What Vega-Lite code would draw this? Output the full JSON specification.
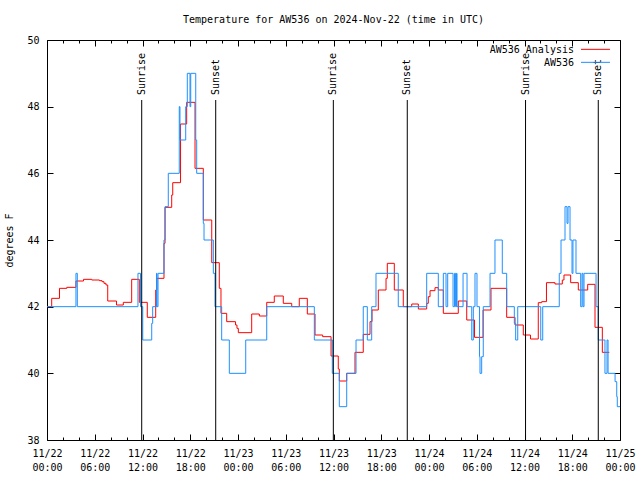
{
  "$schema": "https://vega.github.io/schema/vega-lite/v6.json",
  "width": 573,
  "height": 400,
  "autosize": "none",
  "padding": {"left": 47, "top": 40, "right": 20, "bottom": 40},
  "background": "white",
  "title": {
    "text": "Temperature for AW536 on 2024-Nov-22 (time in UTC)",
    "font": "DejaVu Sans Mono",
    "fontSize": 10,
    "fontWeight": "normal",
    "color": "black",
    "offset": 10,
    "anchor": "middle"
  },
  "config": {
    "view": {"stroke": "black", "strokeWidth": 1},
    "axis": {
      "labelFont": "DejaVu Sans Mono",
      "labelFontSize": 10,
      "labelColor": "black",
      "titleFont": "DejaVu Sans Mono",
      "titleFontSize": 10,
      "titleFontWeight": "normal",
      "titleColor": "black",
      "tickColor": "black",
      "domain": false,
      "grid": false
    }
  },
  "datasets": {
    "analysis": [
      {"h": 0, "temp": 42.0}, {"h": 0.59, "temp": 42.25}, {"h": 1.57, "temp": 42.55}, {"h": 2.49, "temp": 42.58},
      {"h": 3.64, "temp": 42.77}, {"h": 4.59, "temp": 42.82}, {"h": 5.62, "temp": 42.8}, {"h": 6.6, "temp": 42.78},
      {"h": 6.91, "temp": 42.75}, {"h": 7.16, "temp": 42.7}, {"h": 7.41, "temp": 42.65}, {"h": 7.63, "temp": 42.17},
      {"h": 8.73, "temp": 42.05}, {"h": 9.59, "temp": 42.13}, {"h": 10.64, "temp": 42.82}, {"h": 11.6, "temp": 42.13},
      {"h": 12.6, "temp": 41.68}, {"h": 13.66, "temp": 42.5}, {"h": 13.8, "temp": 42.85}, {"h": 14.7, "temp": 43.9},
      {"h": 14.83, "temp": 44.98}, {"h": 15.67, "temp": 45.35}, {"h": 15.8, "temp": 45.72}, {"h": 16.78, "temp": 47.48},
      {"h": 17.55, "temp": 48.13}, {"h": 18.6, "temp": 46.15}, {"h": 19.64, "temp": 44.6}, {"h": 20.7, "temp": 43.32},
      {"h": 21.65, "temp": 42.55}, {"h": 21.86, "temp": 41.8}, {"h": 22.58, "temp": 41.55}, {"h": 23.69, "temp": 41.45},
      {"h": 23.87, "temp": 41.35}, {"h": 24.04, "temp": 41.22}, {"h": 25.72, "temp": 41.78}, {"h": 26.68, "temp": 41.72},
      {"h": 27.61, "temp": 42.13}, {"h": 28.56, "temp": 42.32}, {"h": 29.69, "temp": 42.1}, {"h": 30.75, "temp": 42.0},
      {"h": 31.7, "temp": 42.25}, {"h": 32.71, "temp": 41.78}, {"h": 33.68, "temp": 41.15}, {"h": 34.64, "temp": 41.1},
      {"h": 35.69, "temp": 40.52}, {"h": 36.6, "temp": 40.13}, {"h": 36.73, "temp": 39.77}, {"h": 37.66, "temp": 40.0},
      {"h": 38.7, "temp": 40.63}, {"h": 39.74, "temp": 41.17}, {"h": 40.59, "temp": 41.55}, {"h": 40.84, "temp": 41.9},
      {"h": 41.63, "temp": 42.5}, {"h": 42.6, "temp": 42.85}, {"h": 42.76, "temp": 43.3}, {"h": 43.64, "temp": 42.5},
      {"h": 44.77, "temp": 42.0}, {"h": 45.83, "temp": 42.08}, {"h": 46.66, "temp": 41.93}, {"h": 47.71, "temp": 42.1},
      {"h": 47.91, "temp": 42.3}, {"h": 48.13, "temp": 42.48}, {"h": 48.75, "temp": 42.57}, {"h": 49.17, "temp": 42.5},
      {"h": 49.8, "temp": 41.8}, {"h": 51.68, "temp": 42.17}, {"h": 52.74, "temp": 41.6}, {"h": 53.72, "temp": 41.08},
      {"h": 54.79, "temp": 41.9}, {"h": 55.79, "temp": 42.55}, {"h": 57.76, "temp": 41.68}, {"h": 58.81, "temp": 41.45},
      {"h": 59.85, "temp": 41.15}, {"h": 60.75, "temp": 41.03}, {"h": 61.73, "temp": 42.12}, {"h": 62.16, "temp": 42.15},
      {"h": 62.76, "temp": 42.72}, {"h": 63.83, "temp": 42.68}, {"h": 64.75, "temp": 42.8}, {"h": 64.96, "temp": 42.95},
      {"h": 65.8, "temp": 42.72}, {"h": 66.76, "temp": 42.5}, {"h": 67.94, "temp": 42.67}, {"h": 68.86, "temp": 41.38},
      {"h": 69.78, "temp": 40.63}, {"h": 70.66, "temp": 40.63}
    ],
    "obs": [
      {"h": 0, "temp": 42}, {"h": 3.64, "temp": 43}, {"h": 3.81, "temp": 42}, {"h": 11.43, "temp": 43},
      {"h": 11.75, "temp": 42}, {"h": 12.03, "temp": 41}, {"h": 13.16, "temp": 41.5}, {"h": 13.28, "temp": 42},
      {"h": 13.76, "temp": 43}, {"h": 13.82, "temp": 42}, {"h": 13.95, "temp": 43}, {"h": 14.7, "temp": 44},
      {"h": 14.83, "temp": 45}, {"h": 15.24, "temp": 46}, {"h": 16.62, "temp": 48}, {"h": 16.71, "temp": 47},
      {"h": 17.43, "temp": 48}, {"h": 17.63, "temp": 49}, {"h": 17.97, "temp": 48}, {"h": 18.06, "temp": 49},
      {"h": 18.69, "temp": 47}, {"h": 18.81, "temp": 46}, {"h": 19.64, "temp": 44.5}, {"h": 19.73, "temp": 44},
      {"h": 20.9, "temp": 43}, {"h": 21.11, "temp": 42}, {"h": 21.95, "temp": 41}, {"h": 22.91, "temp": 40},
      {"h": 24.97, "temp": 41}, {"h": 27.61, "temp": 42}, {"h": 33.59, "temp": 41}, {"h": 35.85, "temp": 40},
      {"h": 36.73, "temp": 39}, {"h": 37.66, "temp": 40}, {"h": 38.83, "temp": 41}, {"h": 39.74, "temp": 42},
      {"h": 40.25, "temp": 41}, {"h": 40.8, "temp": 42}, {"h": 41.34, "temp": 43}, {"h": 44.14, "temp": 42},
      {"h": 47.71, "temp": 43}, {"h": 49.17, "temp": 42}, {"h": 49.8, "temp": 43}, {"h": 50.14, "temp": 42},
      {"h": 50.35, "temp": 43}, {"h": 51.02, "temp": 42}, {"h": 51.21, "temp": 43}, {"h": 51.34, "temp": 42},
      {"h": 51.46, "temp": 43}, {"h": 51.52, "temp": 42}, {"h": 52.28, "temp": 43}, {"h": 52.78, "temp": 42},
      {"h": 53.37, "temp": 41}, {"h": 53.57, "temp": 42}, {"h": 53.78, "temp": 43}, {"h": 54.03, "temp": 42},
      {"h": 54.35, "temp": 40.5}, {"h": 54.41, "temp": 40}, {"h": 54.62, "temp": 40.5}, {"h": 54.82, "temp": 42},
      {"h": 55.67, "temp": 43}, {"h": 56.29, "temp": 44}, {"h": 57.21, "temp": 43}, {"h": 57.76, "temp": 42},
      {"h": 58.72, "temp": 41.5}, {"h": 58.89, "temp": 41}, {"h": 59.15, "temp": 42}, {"h": 62.04, "temp": 41},
      {"h": 62.29, "temp": 42}, {"h": 64.37, "temp": 43}, {"h": 64.59, "temp": 44}, {"h": 65.09, "temp": 45},
      {"h": 65.34, "temp": 44.5}, {"h": 65.47, "temp": 45}, {"h": 65.72, "temp": 44}, {"h": 65.97, "temp": 43},
      {"h": 66.09, "temp": 44}, {"h": 66.47, "temp": 43}, {"h": 67.06, "temp": 42}, {"h": 67.23, "temp": 43},
      {"h": 67.35, "temp": 42}, {"h": 67.48, "temp": 43}, {"h": 68.99, "temp": 42}, {"h": 69.27, "temp": 41},
      {"h": 70.11, "temp": 40}, {"h": 70.37, "temp": 41}, {"h": 70.5, "temp": 40}, {"h": 71.38, "temp": 39.75},
      {"h": 71.59, "temp": 39.3}, {"h": 71.66, "temp": 39}, {"h": 72, "temp": 39}
    ],
    "sun": [
      {"h": 11.9, "label": "Sunrise"}, {"h": 21.2, "label": "Sunset"},
      {"h": 35.98, "label": "Sunrise"}, {"h": 45.27, "label": "Sunset"},
      {"h": 60.13, "label": "Sunrise"}, {"h": 69.27, "label": "Sunset"}
    ],
    "legend1": [{"series": "AW536 Analysis"}],
    "legend2": [{"series": "AW536"}]
  },
  "resolve": {"axis": {"x": "independent", "y": "independent"}},
  "layer": [
    {
      "data": {"name": "analysis"},
      "mark": {"type": "line", "interpolate": "step-after", "strokeWidth": 1},
      "encoding": {
        "x": {
          "field": "h", "type": "quantitative",
          "scale": {"domain": [0, 72], "nice": false, "zero": false},
          "axis": {
            "orient": "bottom", "title": null,
            "values": [0,2,4,6,8,10,12,14,16,18,20,22,24,26,28,30,32,34,36,38,40,42,44,46,48,50,52,54,56,58,60,62,64,66,68,70,72],
            "tickSize": {"condition": {"test": "datum.value % 6 === 0", "value": -6}, "value": -3},
            "labelExpr": "datum.value % 6 === 0 ? ['11/' + (22 + floor(datum.value / 24)), ((datum.value % 24) < 10 ? '0' : '') + (datum.value % 24) + ':00'] : ''",
            "labelPadding": 14,
            "labelLineHeight": 14,
            "labelOverlap": false,
            "labelFlush": false,
            "labelBaseline": "top"
          }
        },
        "y": {
          "field": "temp", "type": "quantitative",
          "scale": {"domain": [38, 50], "nice": false, "zero": false},
          "axis": {
            "orient": "left", "title": "degrees F",
            "values": [38, 40, 42, 44, 46, 48, 50],
            "tickSize": -6,
            "labelPadding": 14,
            "titlePadding": 12
          }
        },
        "color": {
          "datum": "AW536 Analysis",
          "scale": {"domain": ["AW536 Analysis", "AW536"], "range": ["#ff0000", "#1e90ff"]},
          "legend": null
        }
      }
    },
    {
      "data": {"name": "obs"},
      "mark": {"type": "line", "interpolate": "step-after", "strokeWidth": 1},
      "encoding": {
        "x": {"field": "h", "type": "quantitative", "axis": null},
        "y": {"field": "temp", "type": "quantitative", "axis": null},
        "color": {"datum": "AW536", "legend": null}
      }
    },
    {
      "data": {"name": "sun"},
      "mark": {"type": "rule", "color": "black", "strokeWidth": 1},
      "encoding": {
        "x": {
          "field": "h", "type": "quantitative",
          "axis": {
            "orient": "top", "title": null, "labels": false,
            "values": [0,2,4,6,8,10,12,14,16,18,20,22,24,26,28,30,32,34,36,38,40,42,44,46,48,50,52,54,56,58,60,62,64,66,68,70,72],
            "tickSize": {"condition": {"test": "datum.value % 6 === 0", "value": -6}, "value": -3}
          }
        },
        "y": {
          "datum": 38, "type": "quantitative",
          "axis": {
            "orient": "right", "title": null, "labels": false,
            "values": [38, 40, 42, 44, 46, 48, 50],
            "tickSize": -6
          }
        },
        "y2": {"datum": 48.2}
      }
    },
    {
      "data": {"name": "sun"},
      "mark": {"type": "text", "angle": 270, "align": "left", "baseline": "middle", "font": "DejaVu Sans Mono", "fontSize": 10, "color": "black"},
      "encoding": {
        "x": {"field": "h", "type": "quantitative", "axis": null},
        "y": {"datum": 48.35, "type": "quantitative", "axis": null},
        "text": {"field": "label"}
      }
    },
    {
      "data": {"name": "legend1"},
      "mark": {"type": "text", "align": "right", "baseline": "middle", "font": "DejaVu Sans Mono", "fontSize": 10, "color": "black"},
      "encoding": {
        "x": {"datum": 66.22, "type": "quantitative", "axis": null},
        "y": {"datum": 49.70, "type": "quantitative", "axis": null},
        "text": {"field": "series"}
      }
    },
    {
      "data": {"name": "legend1"},
      "mark": {"type": "rule", "strokeWidth": 1},
      "encoding": {
        "x": {"datum": 67.1, "type": "quantitative", "axis": null},
        "x2": {"datum": 70.74},
        "y": {"datum": 49.72, "type": "quantitative", "axis": null},
        "color": {"field": "series", "legend": null}
      }
    },
    {
      "data": {"name": "legend2"},
      "mark": {"type": "text", "align": "right", "baseline": "middle", "font": "DejaVu Sans Mono", "fontSize": 10, "color": "black"},
      "encoding": {
        "x": {"datum": 66.22, "type": "quantitative", "axis": null},
        "y": {"datum": 49.30, "type": "quantitative", "axis": null},
        "text": {"field": "series"}
      }
    },
    {
      "data": {"name": "legend2"},
      "mark": {"type": "rule", "strokeWidth": 1},
      "encoding": {
        "x": {"datum": 67.1, "type": "quantitative", "axis": null},
        "x2": {"datum": 70.74},
        "y": {"datum": 49.33, "type": "quantitative", "axis": null},
        "color": {"field": "series", "legend": null}
      }
    }
  ]
}
